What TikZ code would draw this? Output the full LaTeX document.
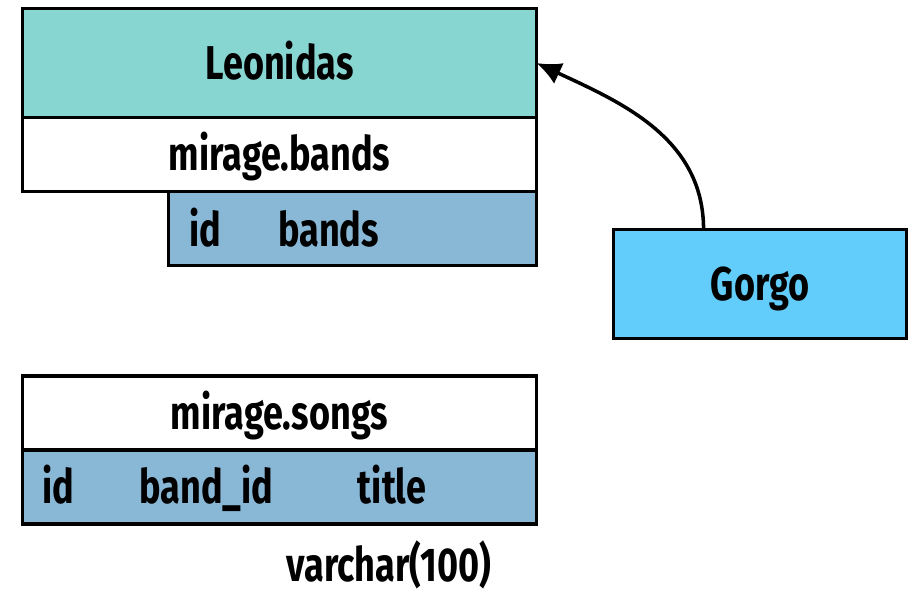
\documentclass[tikz,border=0pt]{standalone}
\usepackage{fontspec}
\setmainfont{Fira Sans}[FakeStretch=0.76]
\usetikzlibrary{arrows.meta,positioning}
\definecolor{leocol}{HTML}{88D6D1}
\definecolor{fieldcol}{HTML}{89B7D6}
\definecolor{gorgocol}{HTML}{62CDFA}

\begin{document}
\begin{tikzpicture}[>={Latex[length=7pt,width=6.5pt]}, line width=1pt,
        lbl/.style={font=\bfseries\fontsize{13.5}{16}\selectfont, text height=.32cm, text depth=0pt, inner sep=0pt},
        tbl/.style={lbl, draw, outer sep=0pt, minimum width=5.14cm, minimum height=.74cm}]
        \useasboundingbox (0,0) rectangle (9.12,-5.91);
        % bands table
        \node [tbl, fill=leocol, minimum height=1.09cm] (leonidas) at (2.795,-.63) {Leonidas};
        \node [tbl, fill=white, below=0pt of leonidas] (bandsname) {mirage.bands};
        \node [tbl, fill=fieldcol, minimum width=3.68cm, anchor=north east] (bandsrow) at (bandsname.south east) {};
        \node [lbl] (bandsid) at (2.05,-2.30) {id};
        \node [lbl] (bandsbands) at (3.285,-2.30) {bands};
        % songs table
        \node [tbl, fill=white] (songsname) at (2.795,-4.13) {mirage.songs};
        \node [tbl, fill=fieldcol, below=0pt of songsname] (songsrow) {};
        \node [lbl] (songsid) at (.585,-4.87) {id};
        \node [lbl] (songsband) at (2.065,-4.87) {band\_id};
        \node [lbl] (songstitle) at (3.92,-4.87) {title};
        \node [lbl] (titletype) at (3.89,-5.65) {varchar(100)};
        % user
        \node [tbl, fill=gorgocol, minimum width=2.93cm, minimum height=1.09cm] (gorgo) at (7.60,-2.84) {Gorgo};
        \draw [->] (gorgo.136) to[out=90, in=-25] (leonidas.east);
\end{tikzpicture}
\end{document}
